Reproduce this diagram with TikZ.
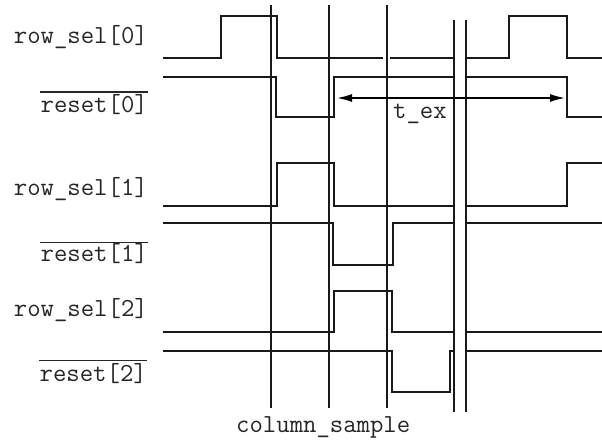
\documentclass[tikz,border=0pt]{standalone}
\usepackage{fontspec}
\usetikzlibrary{arrows.meta}
\newcommand{\lblfont}{\ttfamily\fontsize{26}{26}\selectfont\addfontfeatures{FakeBold=1.2}}
\begin{document}
\begin{tikzpicture}[x=1pt,y=-1pt,
  wave/.style={line width=1.6pt, line join=miter, color=black!90},
  guide/.style={line width=1.6pt, color=black!90},
  lbl/.style={font=\lblfont, inner sep=0pt, anchor=base east, color=black!85},
  txt/.style={font=\lblfont, inner sep=0pt, anchor=base west, color=black!85},
  bar/.style={line width=1.3pt, color=black!85},
  dim/.style={line width=1.6pt, {Latex[length=15pt,width=8pt]}-{Latex[length=15pt,width=8pt]}}]
\useasboundingbox (0,0) rectangle (602,442);
\fill[white] (0,0) rectangle (602,442);

% labels
\node[lbl] (rs0) at (148,43) {row\_sel[0]};
\node[lbl] (r0)  at (148,112) {reset[0]};
\node[lbl] (rs1) at (148,195) {row\_sel[1]};
\node[lbl] (r1)  at (148,261.5) {reset[1]};
\node[lbl] (rs2) at (148,316) {row\_sel[2]};
\node[lbl] (r2)  at (147,381.5) {reset[2]};
\draw[bar] ([yshift=20pt]r0.base west) -- ([yshift=20pt]r0.base east);
\draw[bar] ([yshift=19pt]r1.base west) -- ([yshift=19pt]r1.base east);
\draw[bar] ([yshift=21pt]r2.base west) -- ([yshift=21pt]r2.base east);

% vertical guides
\draw[guide] (271,5) -- (271,408);
\draw[guide] (329,5) -- (329,408);
\draw[guide] (387,5) -- (387,408);
\draw[guide] (454,20) -- (454,412);
\draw[guide] (466,20) -- (466,412);

% row_sel[0]
\draw[wave] (163,58) -- (221,58) -- (221,16) -- (277,16) -- (277,58) -- (383,58);
\draw[wave] (390,58) -- (454,58);
\draw[wave] (466,58) -- (509,58) -- (509,16) -- (567,16) -- (567,58) -- (602,58);
% reset[0]
\draw[wave] (163,77) -- (276,77) -- (276,117) -- (334,117) -- (334,77) -- (454,77);
\draw[wave] (466,77) -- (567,77) -- (567,117) -- (602,117);
% row_sel[1]
\draw[wave] (163,206) -- (277,206) -- (277,163) -- (334,163) -- (334,206) -- (454,206);
\draw[wave] (466,206) -- (567,206) -- (567,163) -- (602,163);
% reset[1]
\draw[wave] (163,223) -- (333,223) -- (333,265) -- (393,265) -- (393,223) -- (454,223);
\draw[wave] (466,223) -- (602,223);
% row_sel[2]
\draw[wave] (163,332) -- (334,332) -- (334,291) -- (392,291) -- (392,332) -- (454,332);
\draw[wave] (466,332) -- (602,332);
% reset[2]
\draw[wave] (163,351) -- (392,351) -- (392,392) -- (450,392) -- (450,351) -- (454,351);
\draw[wave] (466,351) -- (602,351);

% t_ex dimension
\coordinate (tl) at (337,98);
\coordinate (tr) at (565,98);
\draw[dim] (tl) -- (tr);
\node[txt] (tex) at (393,118) {t\_ex};

\node[txt] (cs) at (236,432) {column\_sample};
\end{tikzpicture}
\end{document}
